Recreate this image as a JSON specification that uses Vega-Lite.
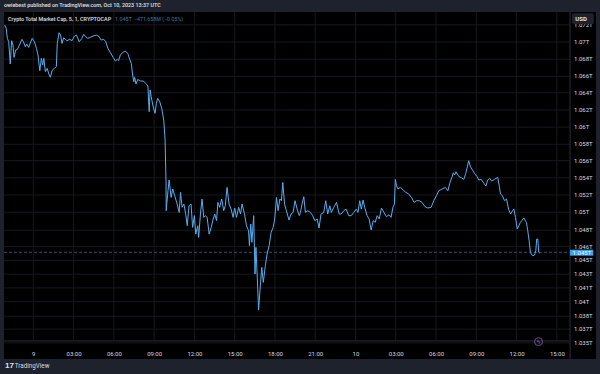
{"$schema":"https://vega.github.io/schema/vega-lite/v6.json","width":592,"height":347,"padding":{"left":4,"top":12,"right":4,"bottom":15},"autosize":"none","background":"#1e222d","view":{"fill":"#000000","stroke":null},
"title":{"text":"owiebest published on TradingView.com, Oct 10, 2023 13:37 UTC","anchor":"start","frame":"group","offset":3,"fontSize":5.4,"font":"Roboto","fontWeight":500,"color":"#e0e2e8"},
"datasets":{"xticks":[{"tick":0},{"tick":180},{"tick":360},{"tick":540},{"tick":720},{"tick":900},{"tick":1080},{"tick":1260},{"tick":1440},{"tick":1620},{"tick":1800},{"tick":1980},{"tick":2160},{"tick":2340}],
"yticks":[{"tick":1.072,"label":"1.072T"},{"tick":1.07,"label":"1.07T"},{"tick":1.068,"label":"1.068T"},{"tick":1.066,"label":"1.066T"},{"tick":1.0641,"label":"1.064T"},{"tick":1.0621,"label":"1.062T"},{"tick":1.0601,"label":"1.06T"},{"tick":1.0581,"label":"1.058T"},{"tick":1.0562,"label":"1.056T"},{"tick":1.0542,"label":"1.054T"},{"tick":1.0522,"label":"1.052T"},{"tick":1.0502,"label":"1.05T"},{"tick":1.0481,"label":"1.048T"},{"tick":1.0462,"label":"1.046T"},{"tick":1.0446,"label":"1.045T"},{"tick":1.043,"label":"1.043T"},{"tick":1.0414,"label":"1.041T"},{"tick":1.0398,"label":"1.04T"},{"tick":1.0381,"label":"1.038T"},{"tick":1.0366,"label":"1.037T"},{"tick":1.035,"label":"1.035T"}],
"series":[{"minute":-128,"value":1.07197},{"minute":-121,"value":1.07158},{"minute":-116,"value":1.07042},{"minute":-110,"value":1.07003},{"minute":-103,"value":1.06744},{"minute":-97,"value":1.07015},{"minute":-91,"value":1.06965},{"minute":-86,"value":1.06821},{"minute":-79,"value":1.06906},{"minute":-71,"value":1.06914},{"minute":-62,"value":1.06965},{"minute":-51,"value":1.07031},{"minute":-44,"value":1.07003},{"minute":-36,"value":1.06945},{"minute":-29,"value":1.06976},{"minute":-21,"value":1.06937},{"minute":-14,"value":1.06984},{"minute":-5,"value":1.07042},{"minute":5,"value":1.07003},{"minute":14,"value":1.06926},{"minute":21,"value":1.06848},{"minute":29,"value":1.06666},{"minute":36,"value":1.0681},{"minute":42,"value":1.06732},{"minute":47,"value":1.0681},{"minute":54,"value":1.06654},{"minute":62,"value":1.06693},{"minute":71,"value":1.06616},{"minute":76,"value":1.06589},{"minute":85,"value":1.06674},{"minute":94,"value":1.06693},{"minute":103,"value":1.06713},{"minute":107,"value":1.06984},{"minute":115,"value":1.07108},{"minute":122,"value":1.07081},{"minute":128,"value":1.06984},{"minute":136,"value":1.0705},{"minute":143,"value":1.07031},{"minute":151,"value":1.07015},{"minute":163,"value":1.07031},{"minute":173,"value":1.07015},{"minute":184,"value":1.07069},{"minute":193,"value":1.07081},{"minute":205,"value":1.07003},{"minute":217,"value":1.07042},{"minute":225,"value":1.07089},{"minute":234,"value":1.07062},{"minute":243,"value":1.07042},{"minute":255,"value":1.07054},{"minute":267,"value":1.07069},{"minute":282,"value":1.07081},{"minute":294,"value":1.07062},{"minute":303,"value":1.07023},{"minute":315,"value":1.07031},{"minute":324,"value":1.07003},{"minute":333,"value":1.06926},{"minute":345,"value":1.06875},{"minute":357,"value":1.06821},{"minute":367,"value":1.06778},{"minute":375,"value":1.06798},{"minute":381,"value":1.06782},{"minute":389,"value":1.06848},{"minute":398,"value":1.06875},{"minute":410,"value":1.06895},{"minute":422,"value":1.06868},{"minute":431,"value":1.06798},{"minute":438,"value":1.06751},{"minute":444,"value":1.06616},{"minute":449,"value":1.06538},{"minute":453,"value":1.06589},{"minute":459,"value":1.06511},{"minute":467,"value":1.06565},{"minute":479,"value":1.06546},{"minute":491,"value":1.06546},{"minute":503,"value":1.06519},{"minute":512,"value":1.06488},{"minute":518,"value":1.06189},{"minute":522,"value":1.06441},{"minute":527,"value":1.06364},{"minute":535,"value":1.06255},{"minute":544,"value":1.0617},{"minute":550,"value":1.06286},{"minute":556,"value":1.06344},{"minute":565,"value":1.06305},{"minute":574,"value":1.06228},{"minute":583,"value":1.06092},{"minute":589,"value":1.0586},{"minute":593,"value":1.05394},{"minute":594,"value":1.05038},{"minute":602,"value":1.0527},{"minute":607,"value":1.05395},{"minute":616,"value":1.05193},{"minute":623,"value":1.0529},{"minute":632,"value":1.05212},{"minute":643,"value":1.05115},{"minute":652,"value":1.05018},{"minute":658,"value":1.05251},{"minute":665,"value":1.05077},{"minute":673,"value":1.05115},{"minute":681,"value":1.04999},{"minute":688,"value":1.04863},{"minute":696,"value":1.05096},{"minute":705,"value":1.05115},{"minute":712,"value":1.04844},{"minute":720,"value":1.0498},{"minute":726,"value":1.04766},{"minute":735,"value":1.04863},{"minute":739,"value":1.04728},{"minute":747,"value":1.04999},{"minute":754,"value":1.05174},{"minute":762,"value":1.0496},{"minute":769,"value":1.0498},{"minute":777,"value":1.0496},{"minute":786,"value":1.04766},{"minute":795,"value":1.04844},{"minute":804,"value":1.04941},{"minute":811,"value":1.04999},{"minute":819,"value":1.04922},{"minute":825,"value":1.05135},{"minute":833,"value":1.05077},{"minute":842,"value":1.05174},{"minute":851,"value":1.05038},{"minute":858,"value":1.05096},{"minute":866,"value":1.05309},{"minute":875,"value":1.05115},{"minute":884,"value":1.05057},{"minute":893,"value":1.0496},{"minute":900,"value":1.05069},{"minute":908,"value":1.0496},{"minute":918,"value":1.05077},{"minute":926,"value":1.04999},{"minute":933,"value":1.05115},{"minute":944,"value":1.04999},{"minute":953,"value":1.04863},{"minute":962,"value":1.04805},{"minute":966,"value":1.04631},{"minute":972,"value":1.04883},{"minute":977,"value":1.0467},{"minute":985,"value":1.0498},{"minute":991,"value":1.04301},{"minute":995,"value":1.04611},{"minute":1001,"value":1.04262},{"minute":1007,"value":1.03882},{"minute":1013,"value":1.04107},{"minute":1021,"value":1.04379},{"minute":1028,"value":1.04204},{"minute":1037,"value":1.04398},{"minute":1045,"value":1.04534},{"minute":1054,"value":1.04631},{"minute":1063,"value":1.04786},{"minute":1072,"value":1.04844},{"minute":1079,"value":1.04941},{"minute":1087,"value":1.05193},{"minute":1094,"value":1.05038},{"minute":1102,"value":1.05174},{"minute":1109,"value":1.05154},{"minute":1115,"value":1.05367},{"minute":1123,"value":1.05115},{"minute":1131,"value":1.05038},{"minute":1143,"value":1.04929},{"minute":1152,"value":1.04999},{"minute":1161,"value":1.05018},{"minute":1170,"value":1.05154},{"minute":1179,"value":1.05057},{"minute":1189,"value":1.0498},{"minute":1194,"value":1.05018},{"minute":1201,"value":1.05115},{"minute":1209,"value":1.05201},{"minute":1216,"value":1.05018},{"minute":1227,"value":1.05038},{"minute":1239,"value":1.05018},{"minute":1249,"value":1.0498},{"minute":1258,"value":1.04922},{"minute":1269,"value":1.04941},{"minute":1277,"value":1.04836},{"minute":1286,"value":1.04999},{"minute":1298,"value":1.05018},{"minute":1307,"value":1.05154},{"minute":1316,"value":1.04999},{"minute":1325,"value":1.05096},{"minute":1332,"value":1.05018},{"minute":1343,"value":1.05077},{"minute":1355,"value":1.05135},{"minute":1367,"value":1.04999},{"minute":1376,"value":1.04999},{"minute":1388,"value":1.05038},{"minute":1398,"value":1.05057},{"minute":1410,"value":1.0498},{"minute":1421,"value":1.0498},{"minute":1432,"value":1.05018},{"minute":1444,"value":1.05057},{"minute":1451,"value":1.05018},{"minute":1459,"value":1.05154},{"minute":1466,"value":1.05057},{"minute":1474,"value":1.05162},{"minute":1481,"value":1.05077},{"minute":1492,"value":1.0498},{"minute":1501,"value":1.04941},{"minute":1510,"value":1.04813},{"minute":1519,"value":1.04922},{"minute":1528,"value":1.04902},{"minute":1537,"value":1.0498},{"minute":1546,"value":1.04941},{"minute":1556,"value":1.05069},{"minute":1567,"value":1.05018},{"minute":1578,"value":1.04968},{"minute":1590,"value":1.04991},{"minute":1599,"value":1.0496},{"minute":1608,"value":1.05084},{"minute":1614,"value":1.05115},{"minute":1618,"value":1.05402},{"minute":1623,"value":1.05329},{"minute":1630,"value":1.0529},{"minute":1641,"value":1.05309},{"minute":1653,"value":1.05278},{"minute":1665,"value":1.05251},{"minute":1678,"value":1.05232},{"minute":1690,"value":1.05193},{"minute":1702,"value":1.05135},{"minute":1713,"value":1.05154},{"minute":1725,"value":1.05154},{"minute":1737,"value":1.05135},{"minute":1751,"value":1.05084},{"minute":1763,"value":1.05069},{"minute":1778,"value":1.05077},{"minute":1790,"value":1.05154},{"minute":1802,"value":1.05212},{"minute":1812,"value":1.0527},{"minute":1827,"value":1.0529},{"minute":1842,"value":1.05309},{"minute":1853,"value":1.0527},{"minute":1862,"value":1.05363},{"minute":1872,"value":1.05433},{"minute":1877,"value":1.0548},{"minute":1883,"value":1.05453},{"minute":1889,"value":1.05491},{"minute":1895,"value":1.05464},{"minute":1903,"value":1.05433},{"minute":1913,"value":1.05422},{"minute":1924,"value":1.05402},{"minute":1933,"value":1.05472},{"minute":1940,"value":1.05549},{"minute":1946,"value":1.05619},{"minute":1954,"value":1.05549},{"minute":1963,"value":1.05511},{"minute":1972,"value":1.05472},{"minute":1984,"value":1.05433},{"minute":1991,"value":1.05394},{"minute":2002,"value":1.05402},{"minute":2014,"value":1.05356},{"minute":2023,"value":1.05325},{"minute":2031,"value":1.05394},{"minute":2040,"value":1.05414},{"minute":2049,"value":1.05383},{"minute":2061,"value":1.05402},{"minute":2076,"value":1.05425},{"minute":2083,"value":1.05317},{"minute":2088,"value":1.05232},{"minute":2097,"value":1.05212},{"minute":2106,"value":1.05154},{"minute":2115,"value":1.05174},{"minute":2124,"value":1.05057},{"minute":2133,"value":1.04999},{"minute":2142,"value":1.05038},{"minute":2148,"value":1.05057},{"minute":2155,"value":1.0496},{"minute":2163,"value":1.04825},{"minute":2170,"value":1.04863},{"minute":2177,"value":1.04902},{"minute":2183,"value":1.04922},{"minute":2192,"value":1.04953},{"minute":2204,"value":1.04902},{"minute":2210,"value":1.04805},{"minute":2216,"value":1.04689},{"minute":2222,"value":1.04553},{"minute":2231,"value":1.04514},{"minute":2240,"value":1.04522},{"minute":2246,"value":1.04573},{"minute":2250,"value":1.04708},{"minute":2255,"value":1.04708},{"minute":2259,"value":1.04553},{"minute":2264,"value":1.04545}]},
"layer":[
{"data":{"name":"xticks"},"mark":{"type":"rule","color":"#16181e","strokeWidth":1},"encoding":{"x":{"field":"tick","type":"quantitative"},"y":{"datum":1.03523},"y2":{"datum":1.07349}}},
{"data":{"name":"yticks"},"mark":{"type":"rule","color":"#16181e","strokeWidth":1},"encoding":{"y":{"field":"tick","type":"quantitative"},"x":{"datum":-131},"x2":{"datum":2399}}},
{"data":{"values":[{}]},"mark":{"type":"rule","color":"#2a4f78","strokeWidth":1,"strokeDash":[3,2]},"encoding":{"y":{"datum":1.04554},"x":{"datum":-131},"x2":{"datum":2399}}},
{"data":{"values":[{}]},"mark":{"type":"rule","color":"#2a2e39","strokeWidth":1},"encoding":{"y":{"datum":1.03523},"x":{"datum":-131},"x2":{"datum":2399}}},
{"data":{"values":[{}]},"mark":{"type":"rule","color":"#2a2e39","strokeWidth":1},"encoding":{"x":{"datum":2399},"y":{"datum":1.03313},"y2":{"datum":1.07349}}},
{"data":{"name":"series"},"mark":{"type":"line","color":"#56aef0","strokeWidth":1,"interpolate":"linear"},"encoding":{
"x":{"field":"minute","type":"quantitative","scale":{"domain":[-131,2515],"nice":false,"zero":false},"axis":{"orient":"bottom","offset":-12,"title":null,"domain":false,"ticks":false,"grid":false,"values":[0,180,360,540,720,900,1080,1260,1440,1620,1800,1980,2160,2340],"labelExpr":"datum.value==0?'9':datum.value==1440?'10':timeFormat(datetime(2023,9,9,floor(datum.value/60),0),'%H:%M')","labelFont":"Roboto","labelFontSize":6,"labelColor":"#d8dae0","labelPadding":3,"labelOverlap":false,"labelFlush":false}},
"y":{"field":"value","type":"quantitative","scale":{"domain":[1.03313,1.07349],"nice":false,"zero":false},"axis":{"orient":"right","title":null,"labels":false,"domain":false,"ticks":false,"grid":false}}}},
{"data":{"name":"yticks"},"mark":{"type":"text","font":"Roboto","fontSize":6,"color":"#d8dae0","align":"left","baseline":"middle","dx":4},"encoding":{"x":{"datum":2399},"y":{"field":"tick","type":"quantitative"},"text":{"field":"label"}}},
{"data":{"values":[{}]},"mark":{"type":"rect","fill":"#1e222d","cornerRadius":2},"encoding":{"x":{"datum":2408},"x2":{"datum":2505},"y":{"datum":1.07334},"y2":{"datum":1.07209}}},
{"data":{"values":[{}]},"mark":{"type":"text","text":"USD","font":"Roboto","fontSize":6,"fontWeight":"bold","color":"#e0e2e8","align":"center","baseline":"middle"},"encoding":{"x":{"datum":2448},"y":{"datum":1.07272}}},
{"data":{"values":[{}]},"mark":{"type":"rect","fill":"#3fa2ea"},"encoding":{"x":{"datum":2399},"x2":{"datum":2503},"y":{"datum":1.04584},"y2":{"datum":1.04515}}},
{"data":{"values":[{}]},"mark":{"type":"text","text":"1.045T","font":"Roboto","fontSize":6,"color":"#f0f8ff","align":"center","baseline":"middle"},"encoding":{"x":{"datum":2452},"y":{"datum":1.04549}}},
{"data":{"values":[{}]},"mark":{"type":"text","text":"Crypto Total Market Cap, 5, 1, CRYPTOCAP","font":"Roboto","fontSize":5.4,"fontWeight":500,"color":"#e0e2e8","align":"left","baseline":"middle"},"encoding":{"x":{"datum":-113},"y":{"datum":1.07273}}},
{"data":{"values":[{}]},"mark":{"type":"text","text":"1.045T","font":"Roboto","fontSize":5.4,"color":"#3e78a8","align":"left","baseline":"middle"},"encoding":{"x":{"datum":365},"y":{"datum":1.07273}}},
{"data":{"values":[{}]},"mark":{"type":"text","text":"−471.658M (−0.05%)","font":"Roboto","fontSize":5.3,"color":"#3e78a8","align":"left","baseline":"middle"},"encoding":{"x":{"datum":450},"y":{"datum":1.07273}}},
{"data":{"values":[{}]},"mark":{"type":"point","shape":"circle","size":64,"filled":false,"stroke":"#a56ad6","strokeWidth":1},"encoding":{"x":{"datum":2258},"y":{"datum":1.03515}}},
{"data":{"values":[{}]},"mark":{"type":"text","text":"ϟ","font":"DejaVu Sans","fontSize":6,"color":"#a56ad6","align":"center","baseline":"middle"},"encoding":{"x":{"datum":2258},"y":{"datum":1.03515}}},
{"data":{"values":[{}]},"mark":{"type":"text","text":"17","font":"Liberation Sans","fontSize":8,"fontWeight":"bold","color":"#e0e2e8","align":"left","baseline":"middle"},"encoding":{"x":{"datum":-126},"y":{"datum":1.03232}}},
{"data":{"values":[{}]},"mark":{"type":"text","text":"TradingView","font":"Roboto","fontSize":6.3,"color":"#d8dae0","align":"left","baseline":"middle"},"encoding":{"x":{"datum":-83},"y":{"datum":1.03232}}}
]}
